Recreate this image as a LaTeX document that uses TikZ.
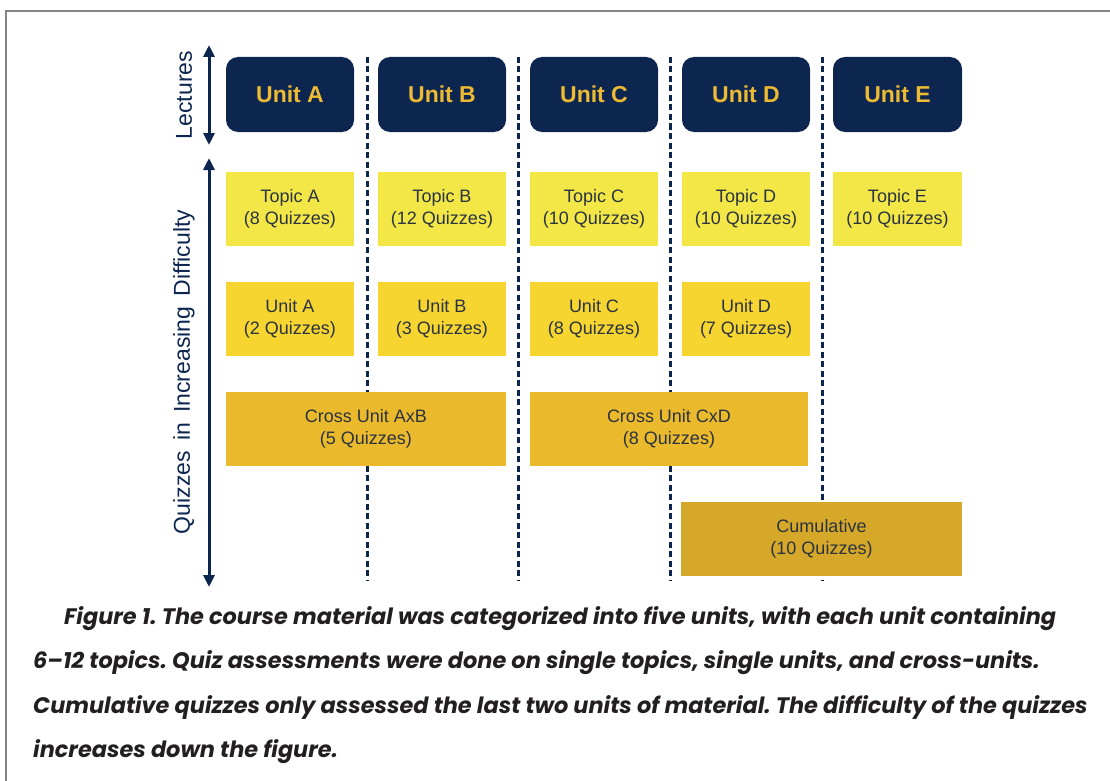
\documentclass[tikz,border=0pt]{standalone}
\usepackage{fontspec}
\setmainfont{Liberation Sans}
\newfontfamily\capfont{Poppins}
\usetikzlibrary{arrows.meta}

\definecolor{navy}{HTML}{0D2650}
\definecolor{headgold}{HTML}{EDBB33}
\definecolor{topicyellow}{HTML}{F2E746}
\definecolor{unityellow}{HTML}{F6D530}
\definecolor{crossgold}{HTML}{EAB92C}
\definecolor{cumgold}{HTML}{D6A829}
\definecolor{boxtext}{HTML}{2B3340}
\definecolor{captiontext}{HTML}{231F20}
\definecolor{framegray}{HTML}{858585}

\begin{document}
\begin{tikzpicture}[x=1pt,y=-1pt,
  header/.style={fill=navy, rounded corners=12pt, minimum width=128pt,
    minimum height=75pt, text=headgold, inner sep=0pt,
    font=\fontsize{23}{26}\selectfont\bfseries},
  quiz/.style={minimum height=74pt, inner sep=0pt, align=center,
    text=boxtext, font=\fontsize{18}{22}\selectfont},
  topicbox/.style={quiz, fill=topicyellow, minimum width=128pt},
  unitbox/.style={quiz, fill=unityellow, minimum width=128pt},
  crossbox/.style={quiz, fill=crossgold},
  cumbox/.style={quiz, fill=cumgold},
  divider/.style={navy, line width=3pt, dash pattern=on 6pt off 3.5pt},
  axis/.style={navy, line width=3pt,
    {Triangle[width=11pt,length=12pt]}-{Triangle[width=11pt,length=12pt]}},
  axislabel/.style={rotate=90, text=navy, inner sep=0pt,
    font=\fontsize{23}{26}\selectfont}
]
\useasboundingbox (0,0) rectangle (1110,781);

% outer frame (open to the right and bottom)
\draw[framegray, line width=2pt] (6,781) -- (6,11) -- (1110,11);

% dashed column dividers
\foreach \x [count=\i] in {367,518,670,822} {
  \coordinate (div\i top) at (\x,57);
  \coordinate (div\i bot) at (\x,580);
  \draw[divider] (div\i top) -- (div\i bot);
}

% side axes
\coordinate (lecTop) at (209,45);
\coordinate (lecBot) at (209,145);
\coordinate (quizTop) at (209,158);
\coordinate (quizBot) at (209,587);
\draw[axis] (lecTop) -- (lecBot);
\draw[axis] (quizTop) -- (quizBot);
\node[axislabel] (lecLabel) at (184,95) {Lectures};
\node[axislabel] (quizLabel) at (184,372) {Quizzes\, in\, Increasing\, Difficulty};

% lecture units
\node[header] (uA) at (290,94.5) {Unit A};
\node[header] (uB) at (442,94.5) {Unit B};
\node[header] (uC) at (594,94.5) {Unit C};
\node[header] (uD) at (746,94.5) {Unit D};
\node[header, minimum width=129pt] (uE) at (897.5,94.5) {Unit E};

% topic quizzes
\node[topicbox] (tA) at (290,209) {Topic A\\(8 Quizzes)};
\node[topicbox] (tB) at (442,209) {Topic B\\(12 Quizzes)};
\node[topicbox] (tC) at (594,209) {Topic C\\(10 Quizzes)};
\node[topicbox] (tD) at (746,209) {Topic D\\(10 Quizzes)};
\node[topicbox, minimum width=129pt] (tE) at (897.5,209) {Topic E\\(10 Quizzes)};

% unit quizzes
\node[unitbox] (qA) at (290,319) {Unit A\\(2 Quizzes)};
\node[unitbox] (qB) at (442,319) {Unit B\\(3 Quizzes)};
\node[unitbox] (qC) at (594,319) {Unit C\\(8 Quizzes)};
\node[unitbox] (qD) at (746,319) {Unit D\\(7 Quizzes)};

% cross-unit quizzes
\node[crossbox, minimum width=280pt] (xAB) at (366,429) {Cross Unit AxB\\(5 Quizzes)};
\node[crossbox, minimum width=278pt] (xCD) at (669,429) {Cross Unit CxD\\(8 Quizzes)};

% cumulative quizzes
\node[cumbox, minimum width=281pt] (cum) at (821.5,539) {Cumulative\\(10 Quizzes)};

% caption (anchored at the baseline of its last line)
\node[anchor=base west, align=left, inner sep=0pt, text=captiontext,
  font=\capfont\fontsize{22.4}{44.5}\selectfont\bfseries\itshape\frenchspacing] (caption) at (33,757.5)
  {\hspace*{31pt}Figure 1. The course material was categorized into five units, with each unit containing\\
   6–12 topics. Quiz assessments were done on single topics, single units, and cross-units.\\
   Cumulative quizzes only assessed the last two units of material. The difficulty of the quizzes\\
   increases down the figure.};
\end{tikzpicture}
\end{document}
